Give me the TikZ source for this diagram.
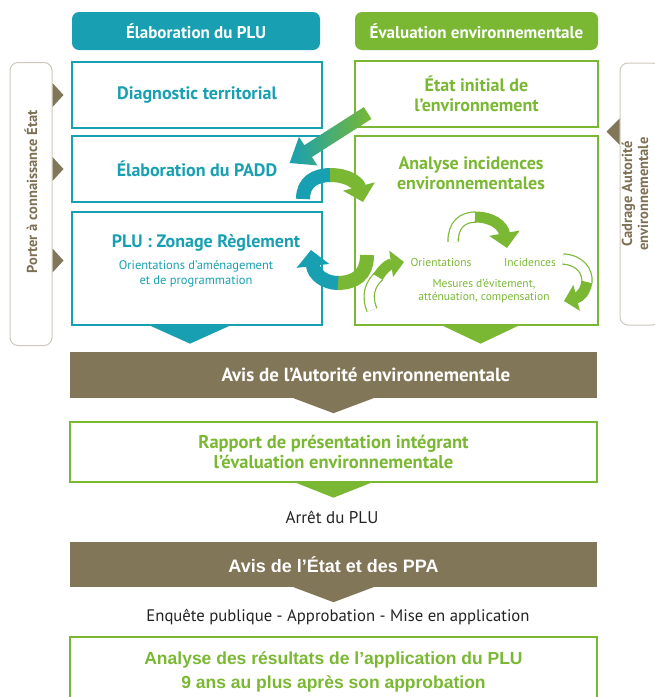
\documentclass[tikz,border=0pt]{standalone}
\usepackage{fontspec}
\setmainfont{PT Sans}
\newfontfamily\arialfont{Liberation Sans}
\usetikzlibrary{calc,arrows.meta,positioning}
\definecolor{pluteal}{RGB}{24,160,178}
\definecolor{evgreen}{RGB}{122,184,51}
\definecolor{avisbrown}{RGB}{130,118,88}
\definecolor{sidegray}{RGB}{205,200,190}
\definecolor{sidetext}{RGB}{125,112,85}
\definecolor{darktext}{RGB}{35,35,35}

\begin{document}
\begin{tikzpicture}[x=1pt,y=-1pt,
  header/.style={rounded corners=7pt, text=white, inner sep=0pt, minimum height=38pt,
    font=\bfseries\fontsize{17}{19}\selectfont},
  plubox/.style={draw=pluteal, line width=1.3pt, inner sep=0pt, minimum width=250pt},
  evbox/.style={draw=evgreen, line width=1.3pt, inner sep=0pt, minimum width=243pt},
  widebox/.style={draw=evgreen, line width=1.3pt, inner sep=0pt, minimum width=527pt},
  band/.style={fill=avisbrown, inner sep=0pt, minimum width=527pt},
  sidebox/.style={draw=sidegray, line width=1pt, rounded corners=8pt, inner sep=0pt},
  boxtitle/.style={font=\bfseries\fontsize{18}{20}\selectfont, align=center},
  boxnote/.style={font=\fontsize{12.5}{15}\selectfont, align=center},
  cyclenote/.style={font=\fontsize{11.5}{13}\selectfont, align=center, text=evgreen},
  sidetitle/.style={font=\bfseries\fontsize{14.5}{16}\selectfont, text=sidetext, align=center, rotate=90},
  steptext/.style={font=\fontsize{17}{19}\selectfont, text=darktext},
  flow/.style={line width=14pt},
  ring/.style={draw=evgreen, double=white, double distance=9pt, line width=1.2pt},
]
\useasboundingbox (0,0) rectangle (655,697);

% en-tetes des deux colonnes
\node[header, fill=pluteal, minimum width=248pt] (hplu) at (196,31) {Élaboration du PLU};
\node[header, fill=evgreen, minimum width=243pt] (hev) at (476.5,31) {Évaluation environnementale};

% colonne PLU
\node[plubox, minimum height=66pt, boxtitle, text=pluteal] (diag) at (197,95) {Diagnostic territorial};
\node[plubox, minimum height=66pt, boxtitle, text=pluteal] (padd) at (197,169) {Élaboration du PADD};
\node[plubox, minimum height=113pt] (zonage) at (197,268.5) {};
\node[boxtitle, text=pluteal] (zonagetitle) at (206,243) {PLU : Zonage Règlement};
\node[boxnote, text=pluteal] (oap) at (196,274) {Orientations d’aménagement\\et de programmation};

% colonne evaluation
\node[evbox, minimum height=66pt, boxtitle, text=evgreen] (etat) at (476.5,94) {État initial de\\l’environnement};
\node[evbox, minimum height=189pt] (analyse) at (476.5,230.5) {};
\node[boxtitle, text=evgreen] (analysetitle) at (471,173) {Analyse incidences\\environnementales};
\node[cyclenote] (orient) at (441,262) {Orientations};
\node[cyclenote] (incid) at (530,262) {Incidences};
\node[cyclenote] (mesures) at (484,291) {Mesures d’évitement,\\atténuation, compensation};

% cadres lateraux
\node[sidebox, rotate=90, minimum width=283pt, minimum height=42pt] (porter) at (31,204) {};
\node[sidetitle] (portertext) at (31,192) {Porter à connaissance État};
\node[sidebox, rotate=90, minimum width=262pt, minimum height=40pt] (cadrage) at (640,194) {};
\node[sidetitle] (cadragetext) at (635,194) {Cadrage Autorité\\environnementale};

\fill[avisbrown] (porter.south |- diag) ++(0,-12) -- ++(11,12) -- ++(-11,12) -- cycle;
\fill[avisbrown] (porter.south |- padd) ++(0,-12) -- ++(11,12) -- ++(-11,12) -- cycle;
\fill[avisbrown] ($(porter.south |- zonage)+(0,-8)$) ++(0,-12) -- ++(11,12) -- ++(-11,12) -- cycle;
\fill[avisbrown] ($(cadrage.north |- etat.south)+(0,4)$) ++(0,-13) -- ++(-13,13) -- ++(13,13) -- cycle;

% etapes du bas
\node[band, minimum height=46pt] (avisae) at (333.5,375) {};
\node[font=\bfseries\fontsize{19}{21}\selectfont, text=white] (avisaetext) at (366,375) {Avis de l’Autorité environnementale};
\node[widebox, minimum height=60pt, boxtitle, font=\bfseries\fontsize{18.5}{20}\selectfont, text=evgreen] (rapport) at (333.5,452) {Rapport de présentation intégrant\\l’évaluation environnementale};
\node[steptext] (arret) at (332,517) {Arrêt du PLU};
\node[band, minimum height=45pt, font=\arialfont\bfseries\fontsize{18}{20}\selectfont, text=white] (avisetat) at (333.5,564.5) {Avis de l’État et des PPA};
\node[steptext, font=\fontsize{16.7}{19}\selectfont] (enquete) at (338,617) {Enquête publique - Approbation - Mise en application};
\node[widebox, minimum height=70pt, text=evgreen, font=\arialfont\bfseries\fontsize{17.5}{24}\selectfont, align=center] (bilan) at (333.5,672) {Analyse des résultats de l’application du PLU\\9 ans au plus après son approbation};

% pointes entre les etapes
\fill[pluteal] ($(zonage.south)+(-47,0)$) -- ++(80,0) -- ++(-40,18) -- cycle;
\fill[evgreen] ($(analyse.south)+(-34,0)$) -- ++(76,0) -- ++(-38,18) -- cycle;
\fill[avisbrown] ($(avisae.south)+(-40,0)$) -- ++(80,0) -- ++(-40,15) -- cycle;
\fill[evgreen] ($(rapport.south)+(-38,0)$) -- ++(76,0) -- ++(-38,15) -- cycle;
\fill[avisbrown] ($(avisetat.south)+(-40,0)$) -- ++(80,0) -- ++(-40,15) -- cycle;

% fleche etat initial -> PADD
\begin{scope}[shift={($(padd.east)+(-33,-6)$)}]
\shade[left color=pluteal, right color=evgreen] (0,0) -- (27.7,2.4) -- (22.3,-6) -- (81.8,-44.1)
  -- (74.2,-55.9) -- (14.7,-17.8) -- (9.3,-26.2) -- cycle;
\end{scope}

% allers-retours entre les colonnes
\draw[flow, pluteal] (303,199) .. controls (303,182) and (315,175) .. (331,175);
\draw[flow, evgreen, -{Triangle[width=32pt,length=16pt]}] (330,175) .. controls (348,175) and (358,183) .. (363,202);
\draw[flow, evgreen] (367,255) .. controls (367,275) and (355,283) .. (337,283);
\draw[flow, pluteal, -{Triangle[width=32pt,length=16pt]}] (338,283) .. controls (325,283) and (314,275) .. (311,250);

% cycle interne de l'evaluation
\draw[ring] (453,242) .. controls (453,225) and (462,217) .. (476,217);
\draw[line width=11pt, evgreen, -{Triangle[width=30pt,length=15pt]}] (475,217) .. controls (492,217) and (503,225) .. (507,248);
\draw[ring] (372,310) .. controls (366,296) and (370,284) .. (379,276);
\draw[line width=11pt, evgreen, -{Triangle[width=26pt,length=13pt]}] (378,277) .. controls (383,268) and (390,264) .. (404,262);
\draw[ring] (563,259) .. controls (580,260) and (588,271) .. (587,283);
\draw[line width=11pt, evgreen, -{Triangle[width=26pt,length=13pt]}] (587,282) .. controls (585,292) and (580,297) .. (564,301);
\end{tikzpicture}
\end{document}
